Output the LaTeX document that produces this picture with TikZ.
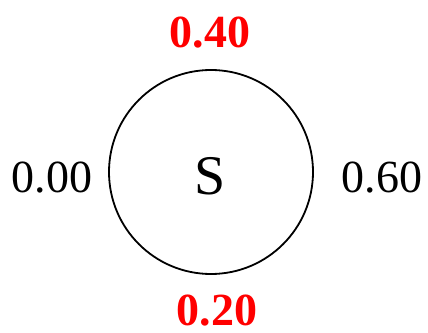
\documentclass[tikz,border=0pt]{standalone}
\usepackage{fontspec}
\setmainfont{Liberation Serif}
\begin{document}
\begin{tikzpicture}[x=1pt,y=1pt,
  val/.style={inner sep=0pt,anchor=base,font=\fontsize{46}{50}\selectfont},
  hot/.style={val,text=red,font=\fontsize{46}{50}\selectfont\bfseries}]
\useasboundingbox (0,0) rectangle (428,332);
\node[draw,circle,line width=1.8pt,minimum size=204pt,inner sep=0pt] (c) at (211,160) {};
\node[inner sep=0pt,anchor=base,font=\fontsize{56}{60}\selectfont] (s) at (210,137) {S};
\node[hot] (top) at (210,284) {0.40};
\node[hot] (bot) at (217,7) {0.20};
\node[val] (l) at (52,139) {0.00};
\node[val] (r) at (382,139) {0.60};
\end{tikzpicture}
\end{document}
